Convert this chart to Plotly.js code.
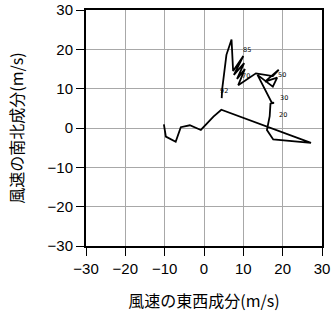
<!DOCTYPE html>
<html>
<head>
<meta charset="utf-8">
<script src="https://cdn.plot.ly/plotly-3.0.1.min.js"></script>
<style>html,body{margin:0;padding:0;background:#fff;}#chart{width:332px;height:319px;}</style>
</head>
<body>
<div id="chart"></div>
<script>
// Hodograph: east-west (u) and north-south (v) wind components, m/s
const windU = [4.5, 4.6, 5.7, 7.0, 7.4, 10.0, 7.6, 10.2, 8.4, 10.4, 8.7, 13.2, 17.5, 19.0, 15.5, 18.6, 17.5, 13.6, 17.2, 17.8, 16.9, 16.7, 16.0, 17.6, 27.2, 4.4, 2.4, -0.8, -3.6, -5.9, -7.2, -9.7, -10.2];
const windV = [7.6, 9.7, 18.6, 22.5, 14.5, 18.3, 13.5, 16.5, 12.5, 15.0, 10.9, 13.9, 13.2, 14.8, 11.8, 12.8, 10.5, 13.5, 6.5, 6.4, 6.2, 3.0, -0.5, -2.9, -3.8, 4.65, 2.9, -0.5, 0.7, 0.2, -3.5, -2.2, 0.9];

// level labels (pressure /10 hPa)
const levelLabels = ["92", "85", "70", "50", "30", "20"];
const labelU = [3.6, 9.4, 9.2, 18.3, 18.8, 18.6];
const labelV = [9.3, 19.8, 13.2, 13.5, 7.6, 3.3];

const tickVals = [-30, -20, -10, 0, 10, 20, 30];
const tickText = ["\u221230", "\u221220", "\u221210", "0", "10", "20", "30"];

const xTitle = "風速の東西成分(m/s)";
const yTitle = "風速の南北成分(m/s)";

const trace = {
  x: windU, y: windV, type: 'scatter', mode: 'lines',
  line: {color: '#000', width: 1.8}, hoverinfo: 'skip'
};

const annotations = levelLabels.map((t, i) => ({
  x: labelU[i], y: labelV[i], xref: 'x', yref: 'y', text: t, showarrow: false,
  xanchor: 'left', yanchor: 'middle', font: {size: 6.5, color: '#000', family: 'DejaVu Sans'}
}));

const axisCommon = {
  range: [-30, 30], tickvals: tickVals, ticktext: tickText,
  showgrid: true, gridcolor: '#a8a8a8', gridwidth: 1, zeroline: false,
  showline: true, linecolor: '#000', linewidth: 2, mirror: true,
  ticks: 'outside', ticklen: 8, tickwidth: 1, tickcolor: '#000',
  tickfont: {size: 15, color: '#000', family: 'Liberation Sans, Arial, sans-serif'},
  fixedrange: true
};

const layout = {
  width: 332, height: 319,
  margin: {l: 86, r: 10, t: 10, b: 73},
  paper_bgcolor: '#fff', plot_bgcolor: '#fff',
  showlegend: false,
  xaxis: Object.assign({}, axisCommon, {
    title: {text: xTitle, font: {size: 16, color: '#000', family: 'Noto Sans CJK JP'}, standoff: 20}
  }),
  yaxis: Object.assign({}, axisCommon, {
    title: {text: yTitle, font: {size: 16, color: '#000', family: 'Noto Sans CJK JP'}, standoff: 20}
  }),
  annotations: annotations
};

Plotly.newPlot('chart', [trace], layout, {displayModeBar: false, staticPlot: true});
</script>
</body>
</html>
